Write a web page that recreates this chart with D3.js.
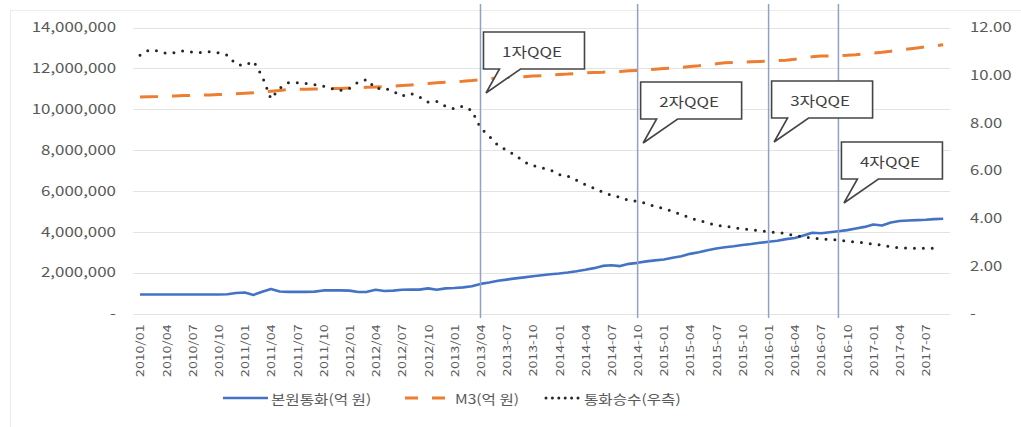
<!DOCTYPE html>
<html>
<head>
<meta charset="utf-8">
<script src="https://cdn.jsdelivr.net/npm/d3@7"></script>
<style>
  body { margin: 0; background: #fff; }
  svg text { font-family: "Noto Sans CJK KR", "Noto Sans", sans-serif; fill: #595959; }
</style>
</head>
<body>
<svg id="chart" width="1021" height="427"></svg>
<script>
// Monthly categories, 2010/01 – 2017/09
const categories = [
  "2010/01","2010/02","2010/03","2010/04","2010/05","2010/06","2010/07","2010/08","2010/09","2010/10","2010/11","2010/12",
  "2011/01","2011/02","2011/03","2011/04","2011/05","2011/06","2011/07","2011/08","2011/09","2011/10","2011/11","2011/12",
  "2012/01","2012/02","2012/03","2012/04","2012/05","2012/06","2012/07","2012/08","2012/09","2012/10","2012/11","2012/12",
  "2013/01","2013/02","2013/03","2013/04","2013-05","2013-06","2013-07","2013-08","2013-09","2013-10","2013-11","2013-12",
  "2014-01","2014-02","2014-03","2014-04","2014-05","2014-06","2014-07","2014-08","2014-09","2014-10","2014-11","2014-12",
  "2015-01","2015-02","2015-03","2015-04","2015-05","2015-06","2015-07","2015-08","2015-09","2015-10","2015-11","2015-12",
  "2016-01","2016-02","2016-03","2016-04","2016-05","2016-06","2016-07","2016-08","2016-09","2016-10","2016-11","2016-12",
  "2017-01","2017-02","2017-03","2017-04","2017-05","2017-06","2017-07","2017-08","2017-09"
];

// Category labels shown along the x axis (quarterly)
const tickLabels = [
  "2010/01","2010/04","2010/07","2010/10","2011/01","2011/04","2011/07","2011/10",
  "2012/01","2012/04","2012/07","2012/10","2013/01","2013/04","2013-07","2013-10",
  "2014-01","2014-04","2014-07","2014-10","2015-01","2015-04","2015-07","2015-10",
  "2016-01","2016-04","2016-07","2016-10","2017-01","2017-04","2017-07"
];

// 본원통화 (억 원), left axis
const monetaryBase = [
  930000,930000,930000,930000,930000,930000,930000,930000,930000,930000,940000,1000000,
  1030000,910000,1060000,1200000,1080000,1060000,1060000,1060000,1070000,1130000,1130000,1130000,
  1120000,1050000,1060000,1160000,1100000,1120000,1160000,1170000,1170000,1230000,1160000,1230000,
  1250000,1280000,1330000,1450000,1520000,1600000,1660000,1720000,1770000,1820000,1870000,1920000,
  1960000,2010000,2070000,2140000,2220000,2330000,2360000,2320000,2430000,2480000,2550000,2600000,
  2640000,2730000,2800000,2920000,3000000,3100000,3180000,3240000,3290000,3350000,3400000,3460000,
  3510000,3560000,3640000,3700000,3820000,3950000,3930000,3980000,4030000,4080000,4160000,4240000,
  4360000,4310000,4450000,4530000,4550000,4570000,4590000,4620000,4640000
];

// M3 (억 원), left axis
const m3 = [
  10600000,10610000,10620000,10640000,10650000,10670000,10680000,10690000,10700000,10720000,10730000,10760000,
  10780000,10800000,10840000,10880000,10920000,10960000,10970000,10980000,10990000,11000000,11010000,11020000,
  11040000,11050000,11070000,11090000,11110000,11130000,11160000,11190000,11220000,11260000,11290000,11320000,
  11350000,11370000,11400000,11450000,11500000,11530000,11550000,11570000,11590000,11620000,11640000,11670000,
  11700000,11720000,11750000,11780000,11800000,11810000,11830000,11850000,11880000,11900000,11930000,11960000,
  11990000,12020000,12050000,12090000,12130000,12180000,12220000,12270000,12290000,12300000,12320000,12340000,
  12360000,12380000,12400000,12450000,12510000,12570000,12600000,12610000,12620000,12640000,12670000,12710000,
  12750000,12790000,12840000,12900000,12950000,13000000,13050000,13100000,13150000
];

// 통화승수, right axis
const moneyMultiplier = [
  10.84,11.05,11.02,10.92,10.94,11.02,10.97,10.95,10.98,10.94,10.84,10.45,
  10.41,10.59,9.95,9.00,9.45,9.68,9.68,9.65,9.60,9.54,9.43,9.36,
  9.45,9.71,9.82,9.43,9.45,9.33,9.12,9.23,9.09,8.87,8.90,8.70,
  8.59,8.70,8.52,7.79,7.44,7.06,6.85,6.64,6.36,6.21,6.11,6.03,
  5.83,5.76,5.59,5.41,5.26,5.09,4.96,4.88,4.74,4.71,4.62,4.48,
  4.41,4.29,4.15,4.01,3.90,3.81,3.70,3.66,3.61,3.55,3.51,3.47,
  3.43,3.40,3.36,3.26,3.22,3.16,3.13,3.11,3.08,3.03,2.99,2.97,
  2.91,2.87,2.80,2.76,2.74,2.74,2.74,2.73
];

const seriesNames = ["본원통화(억 원)", "M3(억 원)", "통화승수(우측)"];

// QQE event months and their callout labels
const qqeMonths = ["2013/04", "2014-10", "2016-01", "2016-09"];
const qqeLabels = ["1자QQE", "2자QQE", "3자QQE", "4자QQE"];

const leftTicks = [0, 2000000, 4000000, 6000000, 8000000, 10000000, 12000000, 14000000];
const rightTicks = [0, 2, 4, 6, 8, 10, 12];

// ---- layout ----
const W = 1021, H = 427;
const plot = { left: 133, right: 950, top: 27.5, bottom: 313.5 };
const calloutTops = [32, 82, 81, 142];

const svg = d3.select("#chart");

// widen glyphs horizontally along the text direction
function stretch(sel, k) {
  sel.each(function () {
    const w = this.getComputedTextLength();
    if (w > 0) {
      this.setAttribute("textLength", (w * k).toFixed(1));
      this.setAttribute("lengthAdjust", "spacingAndGlyphs");
    }
  });
}

svg.append("rect").attr("width", W).attr("height", H).attr("fill", "#fff");
svg.append("rect")
  .attr("x", 10.5).attr("y", 10.5).attr("width", 1030).attr("height", 430)
  .attr("fill", "none").attr("stroke", "#ececec");

const x = d3.scalePoint().domain(categories).range([140, 943.2]);
const yL = d3.scaleLinear().domain([0, 14000000]).range([plot.bottom, plot.top]);
const yR = d3.scaleLinear().domain([0, 12]).range([plot.bottom, plot.top]);

// horizontal gridlines
svg.append("g").selectAll("line").data(leftTicks).join("line")
  .attr("x1", plot.left).attr("x2", plot.right)
  .attr("y1", d => Math.round(yL(d)) + 0.5).attr("y2", d => Math.round(yL(d)) + 0.5)
  .attr("stroke", "#e3e3e3").attr("stroke-width", 1);

// left axis
const gL = svg.append("g").attr("transform", `translate(${plot.left},0)`)
  .call(d3.axisLeft(yL).tickValues(leftTicks).tickSize(0).tickPadding(17)
    .tickFormat(d => d === 0 ? "-" : d3.format(",")(d)));
gL.select(".domain").remove();
gL.selectAll("text").style("font-size", "13.5px").style("fill", "#595959");
stretch(gL.selectAll("text"), 1.25);

// right axis
const gR = svg.append("g").attr("transform", `translate(${plot.right},0)`)
  .call(d3.axisRight(yR).tickValues(rightTicks).tickSize(0).tickPadding(20)
    .tickFormat(d => d === 0 ? "-" : d3.format(".2f")(d)));
gR.select(".domain").remove();
gR.selectAll("text").style("font-size", "13px").style("fill", "#595959");
stretch(gR.selectAll("text"), 1.28);

// bottom axis with rotated labels
const gX = svg.append("g").attr("transform", `translate(0,${plot.bottom})`)
  .call(d3.axisBottom(x).tickValues(tickLabels).tickSize(0));
gX.select(".domain").remove();
gX.selectAll("text")
  .attr("transform", "rotate(-90)")
  .attr("text-anchor", "end")
  .attr("x", -11).attr("y", 0).attr("dy", "0.36em")
  .style("font-size", "11px").style("fill", "#595959");
stretch(gX.selectAll("text"), 1.28);

// series
const lineL = d3.line().x((d, i) => x(categories[i])).y(d => yL(d));
const lineR = d3.line().x((d, i) => x(categories[i])).y(d => yR(d));

svg.append("path").datum(m3)
  .attr("d", lineL).attr("fill", "none")
  .attr("stroke", "#ED7D31").attr("stroke-width", 3)
  .attr("stroke-dasharray", "18,14");

svg.append("path").datum(monetaryBase)
  .attr("d", lineL).attr("fill", "none")
  .attr("stroke", "#4472C4").attr("stroke-width", 2.6)
  .attr("stroke-linejoin", "round");

svg.append("path").datum(moneyMultiplier)
  .attr("d", lineR).attr("fill", "none")
  .attr("stroke", "#262626").attr("stroke-width", 3)
  .attr("stroke-dasharray", "0,8.9").attr("stroke-linecap", "round");

// QQE marker lines and callouts
const qqe = qqeMonths.map((m, i) => ({ x: x(m), label: qqeLabels[i], top: calloutTops[i] }));

svg.append("g").selectAll("line").data(qqe).join("line")
  .attr("x1", d => d.x).attr("x2", d => d.x)
  .attr("y1", 4).attr("y2", 318)
  .attr("stroke", "#8FA2C6").attr("stroke-width", 1.5);

const bw = 101, bh = 37;
const callouts = svg.append("g").selectAll("g").data(qqe).join("g");
callouts.append("path")
  .attr("d", d => {
    const bx = d.x + 3, by = d.top;
    const tipX = d.x + 5.5, tipY = by + bh + 24;
    return `M${bx},${by}H${bx + bw}V${by + bh}H${bx + 37}L${tipX},${tipY}L${bx + 16},${by + bh}H${bx}Z`;
  })
  .attr("fill", "#fff").attr("stroke", "#454545").attr("stroke-width", 1.6)
  .attr("stroke-linejoin", "miter");
const cText = callouts.append("text")
  .attr("x", d => d.x + 3 + bw / 2 - 2)
  .attr("y", d => d.top + bh / 2)
  .attr("text-anchor", "middle").attr("dominant-baseline", "central")
  .style("font-size", "13.5px").style("fill", "#404040")
  .text(d => d.label);
stretch(cText, 1.25);

// legend
const ly = 398;
const lg = svg.append("g");
lg.append("line").attr("x1", 223).attr("x2", 268).attr("y1", ly).attr("y2", ly)
  .attr("stroke", "#4472C4").attr("stroke-width", 2.6);
lg.append("line").attr("x1", 405).attr("x2", 448).attr("y1", ly).attr("y2", ly)
  .attr("stroke", "#ED7D31").attr("stroke-width", 3).attr("stroke-dasharray", "13,14");
lg.append("line").attr("x1", 546).attr("x2", 580).attr("y1", ly).attr("y2", ly)
  .attr("stroke", "#262626").attr("stroke-width", 3)
  .attr("stroke-dasharray", "0,6.4").attr("stroke-linecap", "round");
const legendX = [271, 455, 584];
const lt = lg.selectAll("text").data(seriesNames).join("text")
  .attr("x", (d, i) => legendX[i]).attr("y", ly)
  .attr("dominant-baseline", "central")
  .style("font-size", "13px").style("fill", "#595959")
  .text(d => d);
stretch(lt, 1.2);
</script>
</body>
</html>
